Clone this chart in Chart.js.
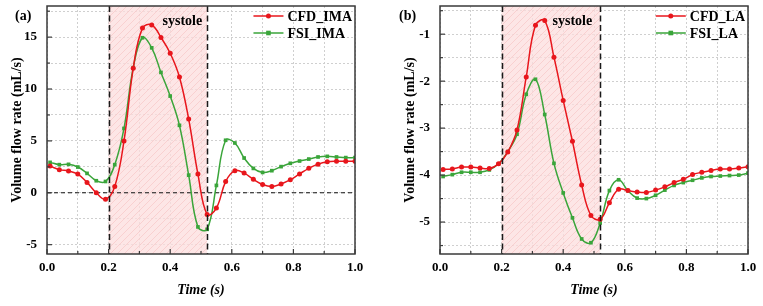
<!DOCTYPE html>
<html><head><meta charset="utf-8">
<script src="https://cdn.jsdelivr.net/npm/chart.js@4.4.1/dist/chart.umd.min.js"></script>
<style>
html,body{margin:0;padding:0;background:#fff;width:763px;height:306px;overflow:hidden}
canvas{position:absolute;top:0}
#ca{left:0}
#cb{left:380px}
</style></head><body>
<canvas id="ca" width="380" height="306"></canvas>
<canvas id="cb" width="383" height="306"></canvas>
<script>
// ---- data ----
const times = [0.01,0.04,0.07,0.10,0.13,0.16,0.19,0.22,0.25,0.28,0.31,0.34,0.37,0.40,0.43,0.46,0.49,0.52,0.55,0.58,0.61,0.64,0.67,0.70,0.73,0.76,0.79,0.82,0.85,0.88,0.91,0.94,0.97,1.00];
const cfdIMA = [2.57,2.23,2.1,1.8,1.0,0.0,-0.62,0.61,5.0,12.0,15.87,16.17,14.97,13.45,11.16,7.1,1.8,-2.1,-1.47,1.08,2.13,1.9,1.3,0.8,0.6,0.84,1.26,1.82,2.36,2.76,2.98,3.04,3.04,3.04];
const fsiIMA = [2.93,2.71,2.74,2.48,1.87,1.16,1.09,2.71,6.2,12.06,14.94,13.97,11.6,9.32,6.5,1.7,-3.29,-3.52,0.71,5.06,4.8,3.35,2.35,1.96,2.13,2.52,2.84,3.06,3.25,3.45,3.51,3.45,3.39,3.39];
const cfdLA = [-3.88,-3.87,-3.83,-3.83,-3.85,-3.86,-3.76,-3.51,-3.04,-1.91,-0.81,-0.71,-1.49,-2.41,-3.28,-4.21,-4.86,-4.94,-4.59,-4.3,-4.33,-4.36,-4.37,-4.32,-4.25,-4.16,-4.09,-3.99,-3.94,-3.9,-3.87,-3.87,-3.85,-3.82];
const fsiLA = [-4.03,-3.99,-3.94,-3.94,-3.94,-3.89,-3.76,-3.5,-3.13,-2.28,-1.96,-2.71,-3.75,-4.38,-4.91,-5.36,-5.44,-5.02,-4.33,-4.1,-4.33,-4.49,-4.5,-4.43,-4.32,-4.22,-4.16,-4.11,-4.06,-4.03,-4.02,-4.01,-4.0,-3.96];
const systoleRange = [0.2, 0.52];
const xTickLabels = ['0.0','0.2','0.4','0.6','0.8','1.0'];
const yTickLabelsA = ['-5','0','5','10','15'];
const yTickLabelsB = ['-5','-4','-3','-2','-1'];

const FONT = '"Liberation Serif","Times New Roman",serif';
const RED = '#e8161c', GREEN = '#3aa53a', FRAME = '#3a3a3a';

function hatchPattern(ctx){
  const c = document.createElement('canvas'); c.width = 7; c.height = 7;
  const g = c.getContext('2d');
  g.fillStyle = 'rgba(252,222,222,0.75)'; g.fillRect(0,0,7,7);
  g.strokeStyle = 'rgba(245,190,190,0.55)'; g.lineWidth = 1;
  g.beginPath(); g.moveTo(-1,8); g.lineTo(8,-1); g.stroke();
  g.beginPath(); g.moveTo(-1,1); g.lineTo(1,-1); g.stroke();
  g.beginPath(); g.moveTo(6,8); g.lineTo(8,6); g.stroke();
  return ctx.createPattern(c,'repeat');
}

function drawMarker(ctx, style, color, x, y){
  ctx.fillStyle = color;
  if (style === 'rect') { ctx.fillRect(x-2.3, y-2.3, 4.6, 4.6); }
  else { ctx.beginPath(); ctx.arc(x, y, 2.5, 0, Math.PI*2); ctx.fill(); }
}

const deco = {
  id: 'deco',
  beforeDatasetsDraw(chart, args, o) {
    const {ctx, chartArea: a, scales: {x, y}} = chart;
    const x0 = x.getPixelForValue(o.systole[0]), x1 = x.getPixelForValue(o.systole[1]);
    ctx.save();
    ctx.fillStyle = hatchPattern(ctx);
    ctx.fillRect(x0, a.top, x1 - x0, a.bottom - a.top);
    if (o.zero) {
      const yz = y.getPixelForValue(0);
      ctx.strokeStyle = '#111'; ctx.lineWidth = 1; ctx.setLineDash([4,3]);
      ctx.beginPath(); ctx.moveTo(a.left, yz); ctx.lineTo(a.right, yz); ctx.stroke();
    }
    ctx.restore();
  },
  afterDatasetsDraw(chart, args, o) {
    const {ctx, chartArea: a, scales: {x, y}} = chart;
    ctx.save();
    ctx.strokeStyle = '#1a1a1a'; ctx.lineWidth = 1.5; ctx.setLineDash([6,3.5]);
    o.systole.forEach(v => {
      const px = Math.round(x.getPixelForValue(v)) + 0.5;
      ctx.beginPath(); ctx.moveTo(px, a.top); ctx.lineTo(px, a.bottom); ctx.stroke();
    });
    ctx.setLineDash([]);
    ctx.strokeStyle = FRAME; ctx.lineWidth = 1.5;
    ctx.strokeRect(a.left, a.top, a.right - a.left, a.bottom - a.top);
    ctx.lineWidth = 1.2;
    x.ticks.forEach(t => {
      const px = x.getPixelForValue(t.value);
      const len = t.label ? 5 : 3;
      ctx.beginPath(); ctx.moveTo(px, a.bottom); ctx.lineTo(px, a.bottom - len); ctx.stroke();
    });
    y.ticks.forEach(t => {
      const py = y.getPixelForValue(t.value);
      const len = t.label ? 5 : 3;
      ctx.beginPath(); ctx.moveTo(a.left, py); ctx.lineTo(a.left + len, py); ctx.stroke();
    });
    ctx.fillStyle = '#000';
    ctx.font = 'bold 14px ' + FONT;
    ctx.textAlign = 'right'; ctx.textBaseline = 'middle';
    ctx.fillText('systole', x.getPixelForValue(o.systole[1]) - o.sysGap, a.top + 15);
    ctx.textAlign = 'left';
    ctx.fillText(o.panel, o.panelX, 16);
    const ds = chart.data.datasets;
    let tw = 0;
    ds.forEach(d => { tw = Math.max(tw, ctx.measureText(d.label).width); });
    const tx = a.right - 3 - tw;
    ds.forEach((d, i) => {
      const ly = 16 + i * 17;
      ctx.strokeStyle = d.borderColor; ctx.lineWidth = 1.5;
      ctx.beginPath(); ctx.moveTo(tx - 34, ly); ctx.lineTo(tx - 4, ly); ctx.stroke();
      drawMarker(ctx, d.pointStyle, d.borderColor, tx - 19, ly);
      ctx.fillStyle = '#000';
      ctx.fillText(d.label, tx, ly + 1);
    });
    ctx.restore();
  }
};

function makeChart(id, series, labels, yMin, yMax, yStep, yLabels, yTitlePad, yWidth, padRight, decoOpts) {
  const mk = (label, vals, color, style, r) => ({
    label, data: times.map((t, i) => ({x: t, y: vals[i]})),
    borderColor: color, backgroundColor: color, pointBackgroundColor: color, pointBorderColor: color,
    pointStyle: style, pointRadius: r, pointBorderWidth: 0, borderWidth: 1.5, tension: 0.4
  });
  return new Chart(document.getElementById(id), {
    type: 'line',
    data: { datasets: [
      mk(labels[0], series[0], RED, 'circle', 2.5),
      mk(labels[1], series[1], GREEN, 'rect', 2.6)
    ]},
    options: {
      responsive: false, animation: false, devicePixelRatio: 1,
      layout: { padding: { left: 0, top: 6, right: padRight, bottom: 0 } },
      plugins: { legend: { display: false }, tooltip: { enabled: false }, deco: decoOpts },
      scales: {
        x: {
          type: 'linear', min: 0, max: 1,
          afterFit: s => { s.height = 52; s.paddingLeft = 0; s.paddingRight = 0; },
          grid: { color: '#cfcfcf', lineWidth: 1, drawTicks: false },
          border: { display: false, dash: [2, 2] },
          ticks: {
            stepSize: 0.1, autoSkip: false, maxRotation: 0, padding: 6, color: '#000',
            font: { family: FONT, size: 13, weight: 'bold' },
            callback: v => { const s = (Math.round(v * 10) / 10).toFixed(1); return xTickLabels.includes(s) ? s : ''; }
          },
          title: { display: true, text: 'Time (s)', color: '#000', padding: { top: 0, bottom: 7 },
                   font: { family: FONT, size: 14, weight: 'bold', style: 'italic' } }
        },
        y: {
          type: 'linear', min: yMin, max: yMax,
          afterFit: s => { s.width = yWidth; s.paddingTop = 0; s.paddingBottom = 0; },
          grid: { color: '#cfcfcf', lineWidth: 1, drawTicks: false },
          border: { display: false, dash: [2, 2] },
          ticks: {
            stepSize: yStep, includeBounds: false, autoSkip: false, padding: 10, color: '#000',
            font: { family: FONT, size: 13, weight: 'bold' },
            callback: v => { const s = String(Math.round(v * 100) / 100); return yLabels.includes(s) ? s : ''; }
          },
          title: { display: true, text: 'Volume flow rate (mL/s)', color: '#000', padding: { top: yTitlePad, bottom: 0 },
                   font: { family: FONT, size: 14, weight: 'bold' } }
        }
      }
    },
    plugins: [deco]
  });
}

makeChart('ca', [cfdIMA, fsiIMA], ['CFD_IMA', 'FSI_IMA'], -5.9, 18.0, 2.5, yTickLabelsA, 8.6, 47, 25,
  { systole: systoleRange, zero: true, panel: '(a)', panelX: 15, sysGap: 5 });
makeChart('cb', [cfdLA, fsiLA], ['CFD_LA', 'FSI_LA'], -5.68, -0.40, 0.5, yTickLabelsB, 21.6, 60, 15,
  { systole: systoleRange, zero: false, panel: '(b)', panelX: 19, sysGap: 8 });
</script>
</body></html>
